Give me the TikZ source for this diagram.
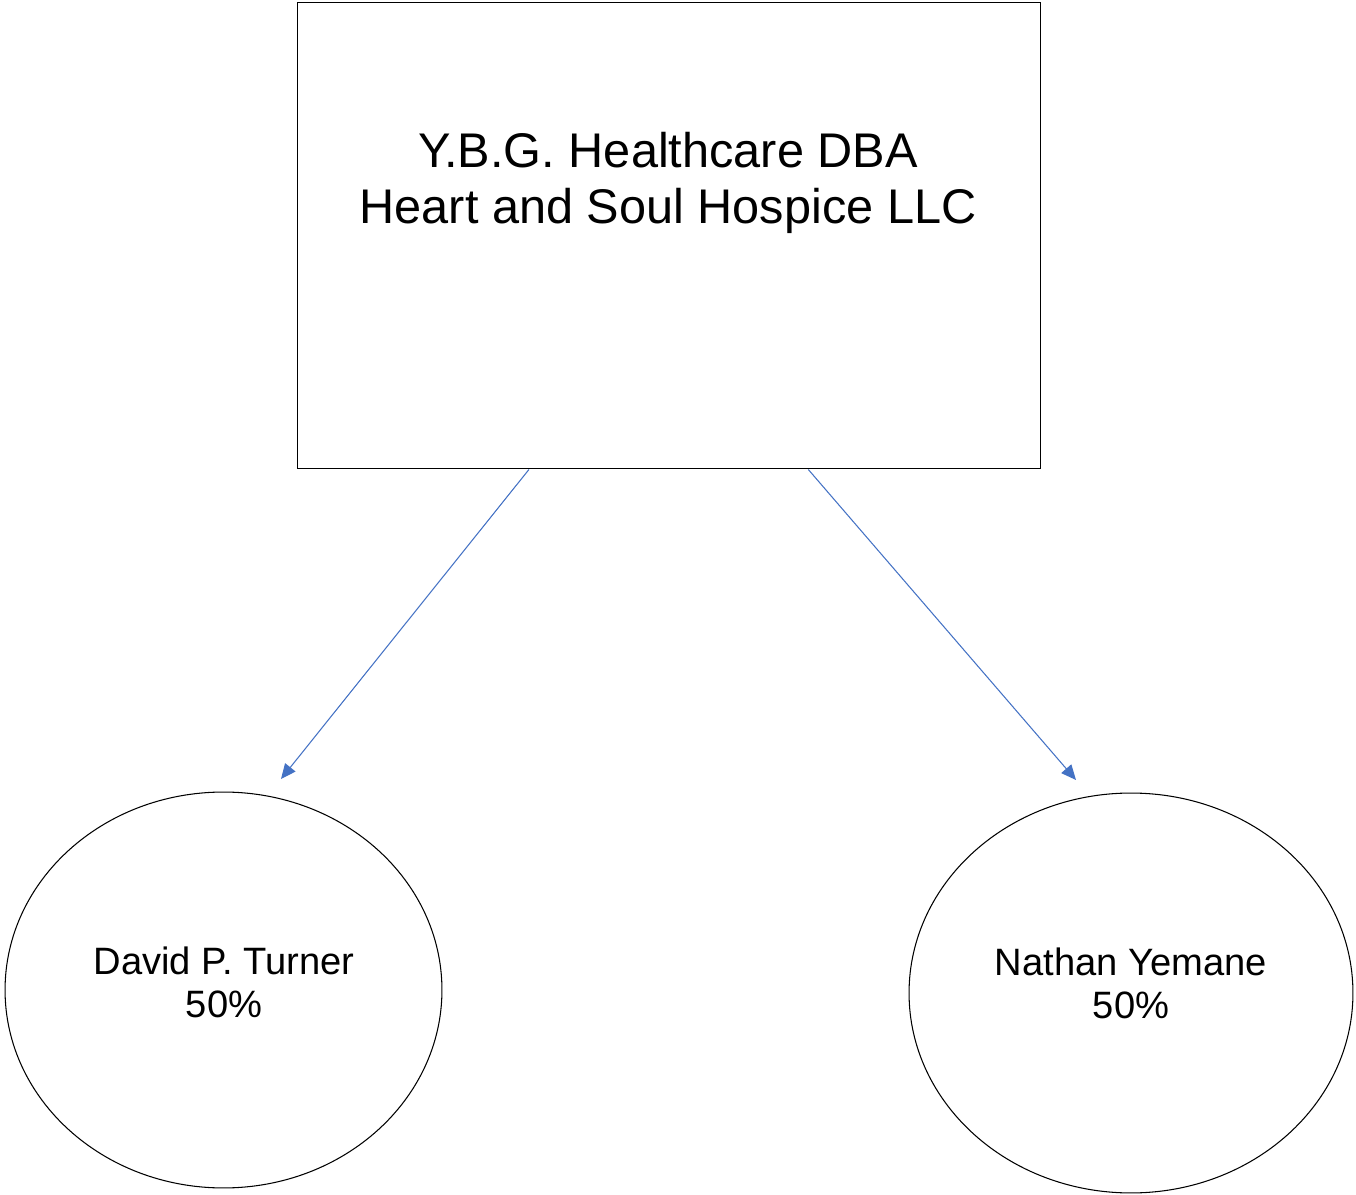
\documentclass[tikz,border=0pt]{standalone}
\usepackage{fontspec}
\setmainfont{Liberation Sans}
\usepackage{tikz}
\usetikzlibrary{shapes.geometric, arrows.meta, calc}
\definecolor{linkblue}{RGB}{68,114,196}
\tikzstyle{company} = [rectangle, minimum width=14.88cm, minimum height=9.34cm, draw=black, line width=0.6pt, fill=white, inner sep=0pt]
\tikzstyle{companytext} = [align=center, font=\fontsize{27.7}{31.5}\selectfont]
\tikzstyle{owner} = [ellipse, inner sep=0pt, align=center, draw=black, line width=0.6pt, font=\fontsize{21.7}{24.5}\selectfont]
\tikzstyle{arrow} = [linkblue, line width=0.6pt, -{Triangle[length=8.5pt, width=7.5pt]}]

\begin{document}
\begin{tikzpicture}[x=0.02cm, y=-0.02cm]
		\useasboundingbox (0,0) rectangle (1356,1195);
		\node (ybg) [company] at (669,235.5) {};
		\node (ybgtext) [companytext] at (668,183) {Y.B.G. Healthcare DBA\\Heart and Soul Hospice LLC};
		
		\node (turner) [owner, minimum width=8.74cm, minimum height=7.92cm] at (223.5,990) {};
		\node (turnertext) [owner, draw=none] at (224,982) {David P. Turner\\50\%};
		\node (yemane) [owner, minimum width=8.88cm, minimum height=8cm] at (1131,993) {};
		\node (yemanetext) [owner, draw=none] at (1131,983) {Nathan Yemane\\50\%};
		
		\coordinate (turnerin) at (281,779);
		\coordinate (yemanein) at (1076,780);
		
		\draw [arrow] ($(ybg.south west)!0.312!(ybg.south east)$) -- (turnerin);
		\draw [arrow] ($(ybg.south west)!0.687!(ybg.south east)$) -- (yemanein);
		\end{tikzpicture}
\end{document}
